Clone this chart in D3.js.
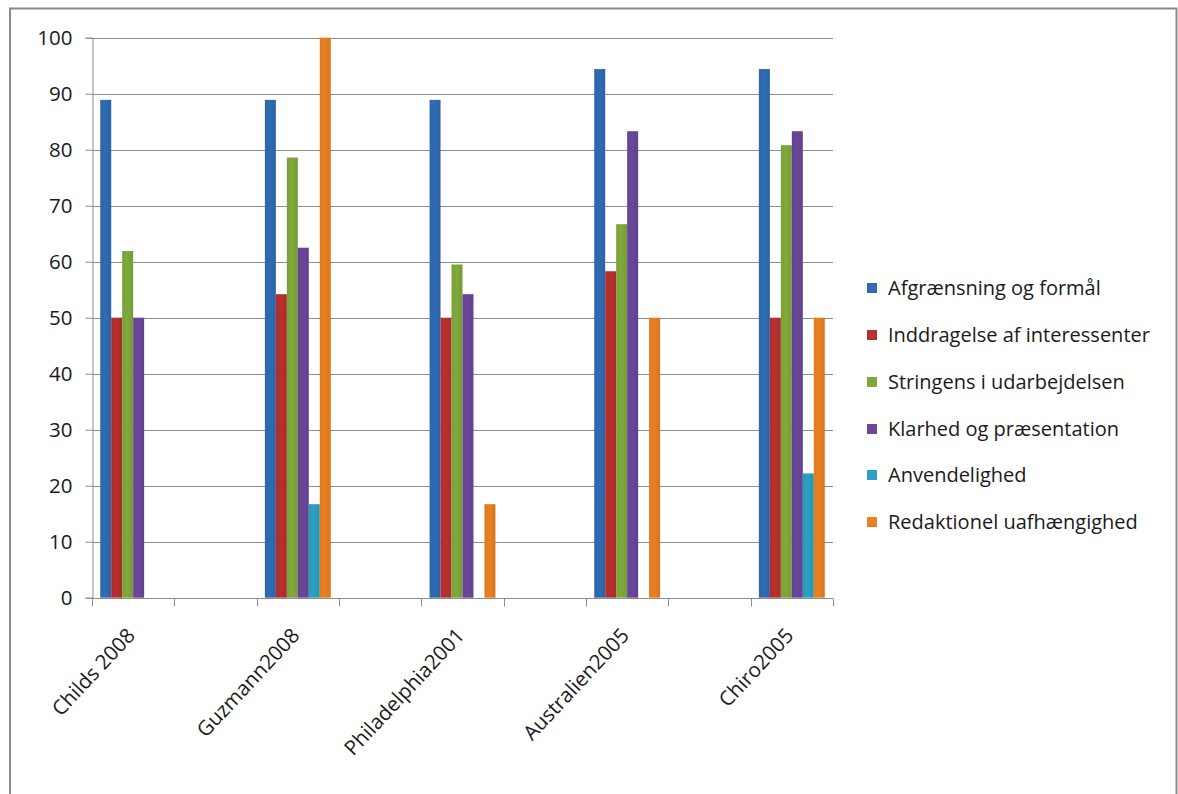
<!DOCTYPE html>
<html>
<head>
<meta charset="utf-8">
<script src="https://cdn.jsdelivr.net/npm/d3@7"></script>
<style>
  html, body { margin: 0; padding: 0; background: #fff; }
  svg { display: block; }
  text { font-family: "Open Sans", "Noto Sans", sans-serif; fill: #1a1a1a; }
</style>
</head>
<body>
<svg id="chart" width="1178" height="794"></svg>
<script>
// Study slots along the x axis (empty names are spacer slots between studies)
const categories = ["Childs 2008", "", "Guzmann2008", "", "Philadelphia2001", "", "Australien2005", "", "Chiro2005"];
const studies = ["Childs 2008", "Guzmann2008", "Philadelphia2001", "Australien2005", "Chiro2005"];

// Score (%) per quality domain, one value per study
const afgraensning   = [88.9, 88.9, 88.9, 94.4, 94.4];
const inddragelse    = [50.0, 54.2, 50.0, 58.3, 50.0];
const stringens      = [61.9, 78.6, 59.5, 66.7, 80.8];
const klarhed        = [50.0, 62.5, 54.2, 83.3, 83.3];
const anvendelighed  = [0, 16.7, 0, 0, 22.2];
const redaktionel    = [0, 100, 16.7, 50.0, 50.0];

const seriesNames = [
  "Afgrænsning og formål",
  "Inddragelse af interessenter",
  "Stringens i udarbejdelsen",
  "Klarhed og præsentation",
  "Anvendelighed",
  "Redaktionel uafhængighed"
];
const seriesValues = [afgraensning, inddragelse, stringens, klarhed, anvendelighed, redaktionel];
const seriesColors = ["#2f6cb4", "#b8302f", "#80a93b", "#6a479b", "#2ba1c3", "#eb8022"];

const yTicks = [0, 10, 20, 30, 40, 50, 60, 70, 80, 90, 100];

const svg = d3.select("#chart");
const plot = { left: 92, right: 833, top: 37.7, bottom: 597.7 };

// Outer chart frame
svg.append("rect")
  .attr("x", 10).attr("y", 8.5)
  .attr("width", 1166.5).attr("height", 800)
  .attr("fill", "#fff")
  .attr("stroke", "#8a8a8a").attr("stroke-width", 2);

// Slots are keyed by index so that the empty spacer names stay distinct
const slotIndex = d3.range(categories.length);
const x = d3.scaleBand().domain(slotIndex).range([plot.left, plot.right]).padding(0);
const y = d3.scaleLinear().domain([0, 100]).range([plot.bottom, plot.top]);
const slotOf = name => categories.indexOf(name);

// Gradients for the bar fills
const defs = svg.append("defs");
seriesColors.forEach((c, i) => {
  const g = defs.append("linearGradient")
    .attr("id", "grad" + i)
    .attr("x1", 0).attr("y1", 0).attr("x2", 1).attr("y2", 0);
  g.append("stop").attr("offset", "0%").attr("stop-color", d3.color(c).darker(0.15));
  g.append("stop").attr("offset", "45%").attr("stop-color", c);
  g.append("stop").attr("offset", "100%").attr("stop-color", d3.color(c).darker(0.25));
});

// Horizontal gridlines
svg.append("g")
  .selectAll("line")
  .data(yTicks.filter(d => d > 0))
  .join("line")
  .attr("x1", plot.left).attr("x2", plot.right)
  .attr("y1", d => Math.round(y(d)) + 0.5).attr("y2", d => Math.round(y(d)) + 0.5)
  .attr("stroke", "#8c8c8c").attr("stroke-width", 1);

// Y axis
const yAxis = svg.append("g")
  .attr("transform", `translate(${plot.left + 0.5},0)`)
  .call(d3.axisLeft(y).tickValues(yTicks).tickSize(7).tickPadding(13));
yAxis.select(".domain").attr("stroke", "#8c8c8c");
yAxis.selectAll(".tick line").attr("stroke", "#8c8c8c");
yAxis.selectAll(".tick text")
  .style("font-family", "'Open Sans', sans-serif")
  .style("font-size", "20.5px")
  .attr("fill", "#222");

// Bars
const bw = x.bandwidth() / 7.5;
const groups = svg.append("g");
studies.forEach((s, si) => {
  seriesValues.forEach((vals, k) => {
    const v = vals[si];
    if (!v) return;
    groups.append("rect")
      .attr("x", x(slotOf(s)) + bw * 0.75 + k * bw)
      .attr("y", y(v))
      .attr("width", bw)
      .attr("height", y(0) - y(v))
      .attr("fill", `url(#grad${k})`);
  });
});

// X axis with ticks at slot boundaries
const xAxisG = svg.append("g").attr("transform", `translate(0,${Math.round(plot.bottom) + 0.5})`);
xAxisG.append("line")
  .attr("x1", plot.left).attr("x2", plot.right)
  .attr("stroke", "#8c8c8c");
const bounds = slotIndex.map(i => x(i)).concat([plot.right]);
xAxisG.selectAll("line.tk")
  .data(bounds)
  .join("line")
  .attr("class", "tk")
  .attr("x1", d => Math.round(d) + 0.5).attr("x2", d => Math.round(d) + 0.5)
  .attr("y1", 0).attr("y2", 8)
  .attr("stroke", "#8c8c8c");

// Rotated category labels
xAxisG.selectAll("text")
  .data(slotIndex.filter(i => categories[i] !== ""))
  .join("text")
  .attr("transform", i => `translate(${x(i) + x.bandwidth() / 2 + 3},${38}) rotate(-47)`)
  .attr("text-anchor", "end")
  .style("font-size", "20.5px")
  .text(i => categories[i]);

// Legend
const legend = svg.append("g").attr("transform", "translate(867,0)");
const legendY = [288, 335, 382, 429, 475, 522];
seriesNames.forEach((name, i) => {
  const row = legend.append("g").attr("transform", `translate(0,${legendY[i]})`);
  row.append("rect")
    .attr("x", 0).attr("y", -5)
    .attr("width", 10).attr("height", 10)
    .attr("fill", seriesColors[i]);
  row.append("text")
    .attr("x", 21).attr("y", 0)
    .attr("dy", "0.36em")
    .style("font-size", "20px")
    .text(name);
});
</script>
</body>
</html>
